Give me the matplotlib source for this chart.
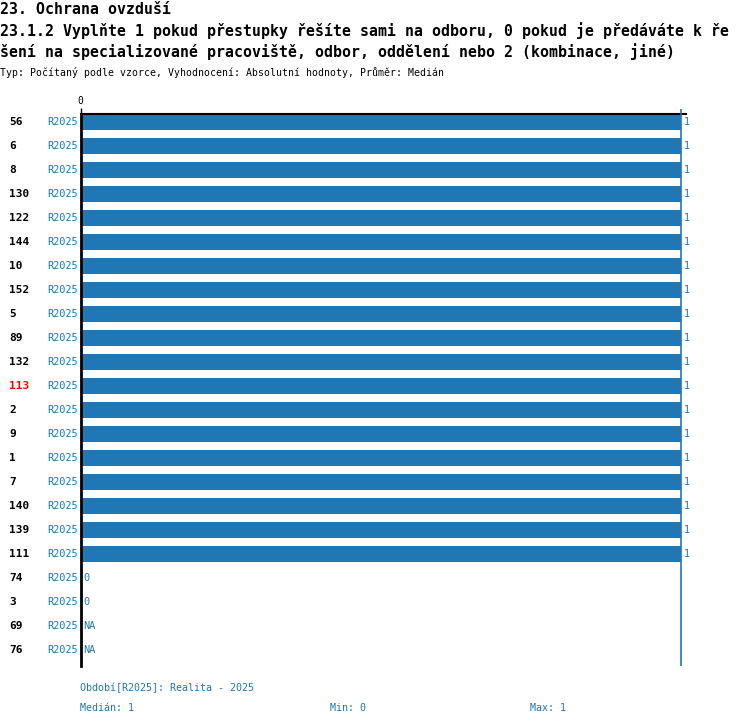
import numpy as np
import matplotlib
matplotlib.use("Agg")
import matplotlib.pyplot as plt

# data
ids = ["56", "6", "8", "130", "122", "144", "10", "152", "5", "89", "132", "113",
       "2", "9", "1", "7", "140", "139", "111", "74", "3", "69", "76"]
values = [1, 1, 1, 1, 1, 1, 1, 1, 1, 1, 1, 1,
          1, 1, 1, 1, 1, 1, 1, 0, 0, np.nan, np.nan]
period = "R2025"
highlight = "113"
median_val = 1
min_val = 0
max_val = 1

title1 = "23. Ochrana ovzduší"
title2 = "23.1.2 Vyplňte 1 pokud přestupky řešíte sami na odboru, 0 pokud je předáváte k ře"
title3 = "šení na specializované pracoviště, odbor, oddělení nebo 2 (kombinace, jiné)"
subtitle = "Typ: Počítaný podle vzorce, Vyhodnocení: Absolutní hodnoty, Průměr: Medián"
footer = "Období[R2025]: Realita - 2025"

blue = "#1f77b4"
plt.rcParams['font.family'] = ['DejaVu Sans Mono', 'DejaVu Sans']

W, H = 750, 726
fig = plt.figure(figsize=(W / 100, H / 100), dpi=100)

left, right, top, bottom = 80.5, 686, 114, 666
ax = fig.add_axes([left / W, 1 - bottom / H, (right - left) / W, (bottom - top) / H])

n = len(ids)
y = np.arange(n)
vals = np.array(values, dtype=float)
ax.barh(y, np.nan_to_num(vals), height=0.67, color=blue, align='center')

ax.set_ylim(n - 1 + 0.667, -0.333)
ax.set_xlim(0, 1.008)

# median marker line
ax.vlines(median_val, -0.55, n - 1 + 0.667, color=blue, lw=1.2, clip_on=False, zorder=3)

for s in ['right', 'bottom']:
    ax.spines[s].set_visible(False)
ax.spines['left'].set_linewidth(2)
ax.spines['top'].set_linewidth(1.5)
ax.xaxis.tick_top()
ax.set_xticks([0])
ax.set_xticklabels(["0"], fontsize=7)
ax.tick_params(axis='x', length=4.5, width=1, pad=1)
ax.set_yticks([])

for i, (lab, v) in enumerate(zip(ids, vals)):
    ax.annotate(lab, xy=(0, i), xycoords=('axes fraction', 'data'),
                xytext=(-71, 0), textcoords='offset pixels', ha='left', va='center',
                fontsize=8, fontweight='bold',
                color='red' if lab == highlight else 'black')
    ax.annotate(period, xy=(0, i), xycoords=('axes fraction', 'data'),
                xytext=(-3, 0), textcoords='offset pixels', ha='right', va='center',
                fontsize=7.4, color=blue)
    txt = "NA" if np.isnan(v) else f"{v:g}"
    xv = 0 if np.isnan(v) else v
    ax.annotate(txt, xy=(xv, i), xytext=(3, 0), textcoords='offset pixels',
                ha='left', va='center', fontsize=7.4, color=blue)

fig.text(0, 1 - 9 / H, title1, ha='left', va='center', fontsize=10.7, fontweight='bold')
fig.text(0, 1 - 31 / H, title2, ha='left', va='center', fontsize=10.7, fontweight='bold')
fig.text(0, 1 - 52 / H, title3, ha='left', va='center', fontsize=10.7, fontweight='bold')
fig.text(0, 1 - 73 / H, subtitle, ha='left', va='center', fontsize=7.1)

fig.text(80 / W, 1 - 688 / H, footer, ha='left', va='center', fontsize=7.2, color=blue)
fig.text(80 / W, 1 - 708 / H, f"Medián: {median_val}", ha='left', va='center', fontsize=7.2, color=blue)
fig.text(330 / W, 1 - 708 / H, f"Min: {min_val}", ha='left', va='center', fontsize=7.2, color=blue)
fig.text(530 / W, 1 - 708 / H, f"Max: {max_val}", ha='left', va='center', fontsize=7.2, color=blue)

fig.savefig("out.png", dpi=100)
